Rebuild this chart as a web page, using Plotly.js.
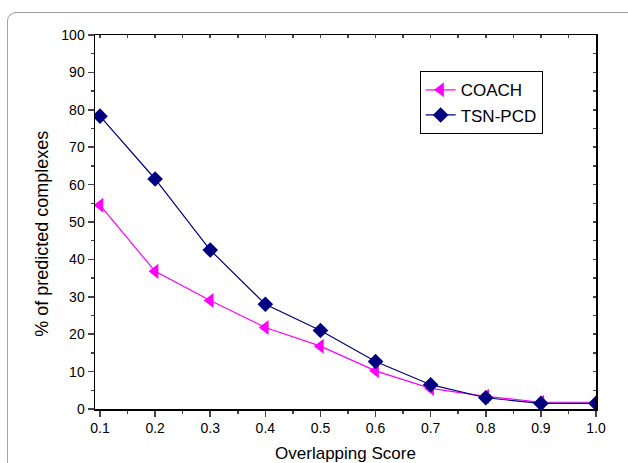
<!DOCTYPE html>
<html><head><meta charset="utf-8">
<script src="https://cdn.plot.ly/plotly-3.0.1.min.js"></script>
<style>
html,body{margin:0;padding:0;background:#fff;overflow:hidden;}
#frame{position:absolute;left:7px;top:12px;width:660px;height:480px;border:1.5px solid #a0a0a0;border-radius:9px;}
#chart{position:absolute;left:0;top:0;width:628px;height:463px;}
</style></head>
<body>
<div id="frame"></div>
<div id="chart"></div>
<script>
const scores = [0.1,0.2,0.3,0.4,0.5,0.6,0.7,0.8,0.9,1.0];
const coach = [54.5,36.8,29.0,21.8,16.8,10.2,5.5,3.4,1.8,1.8];
const tsnpcd = [78.3,61.5,42.5,28.0,21.0,12.7,6.5,3.0,1.5,1.5];
const xTitle = 'Overlapping Score';
const yTitle = '% of predicted complexes';

const FONT = 'Liberation Sans, Arial, sans-serif';
const data = [
  {x:scores, y:coach, name:'COACH', mode:'lines+markers',
   line:{color:'#ff00ff', width:1.2},
   marker:{symbol:'triangle-left', size:13, color:'#ff00ff'}},
  {x:scores, y:tsnpcd, name:'TSN-PCD', mode:'lines+markers',
   line:{color:'#000080', width:1.2},
   marker:{symbol:'diamond', size:12, color:'#000080'}},
  {x:scores, y:coach, xaxis:'x2', yaxis:'y2', mode:'lines', opacity:0,
   showlegend:false, hoverinfo:'skip'}
];
const xr = [0.0909, 1.0];
const yr = [0, 100];
const layout = {
  width:628, height:463,
  margin:{l:95, r:32, t:35, b:54},
  paper_bgcolor:'rgba(0,0,0,0)', plot_bgcolor:'#fff',
  font:{family:FONT, size:14, color:'#000'},
  showlegend:true,
  legend:{x:0.648, y:0.903, xanchor:'left', yanchor:'top',
    bordercolor:'#000', borderwidth:1, bgcolor:'#fff',
    font:{size:17, family:FONT}, tracegroupgap:0},
  xaxis:{range:xr, tickvals:scores, tickformat:'.1f', ticks:'outside', ticklen:6, tickwidth:1.5,
    showline:true, linecolor:'#000', linewidth:1.5, showgrid:false, zeroline:false,
    minor:{dtick:0.05, tick0:0.05, ticks:'outside', ticklen:3, tickwidth:1.5, showgrid:false},
    title:{text:xTitle, font:{size:17, family:FONT}, standoff:16}},
  yaxis:{range:yr, dtick:10, ticks:'outside', ticklen:6, tickwidth:1.5,
    showline:true, linecolor:'#000', linewidth:1.5, showgrid:false, zeroline:false,
    minor:{dtick:5, ticks:'outside', ticklen:3, tickwidth:1.5, showgrid:false}},
  xaxis2:{overlaying:'x', side:'top', range:xr, tickvals:scores, showticklabels:false,
    ticks:'inside', ticklen:3, tickwidth:1.5, showline:true, linecolor:'#000', linewidth:1.5,
    showgrid:false, zeroline:false,
    minor:{dtick:0.05, tick0:0.05, ticks:'inside', ticklen:3, tickwidth:1.5, showgrid:false}},
  yaxis2:{overlaying:'y', side:'right', range:yr, dtick:5, showticklabels:false,
    ticks:'inside', ticklen:3, tickwidth:1.5, showline:true, linecolor:'#000', linewidth:1.5,
    showgrid:false, zeroline:false},
  annotations:[{text:yTitle, textangle:-90, xref:'paper', yref:'paper',
    x:-0.106, y:0.468, xanchor:'center', yanchor:'middle', showarrow:false,
    font:{size:18, family:FONT}}]
};
Plotly.newPlot('chart', data, layout, {staticPlot:true, displayModeBar:false});
</script>
</body></html>
